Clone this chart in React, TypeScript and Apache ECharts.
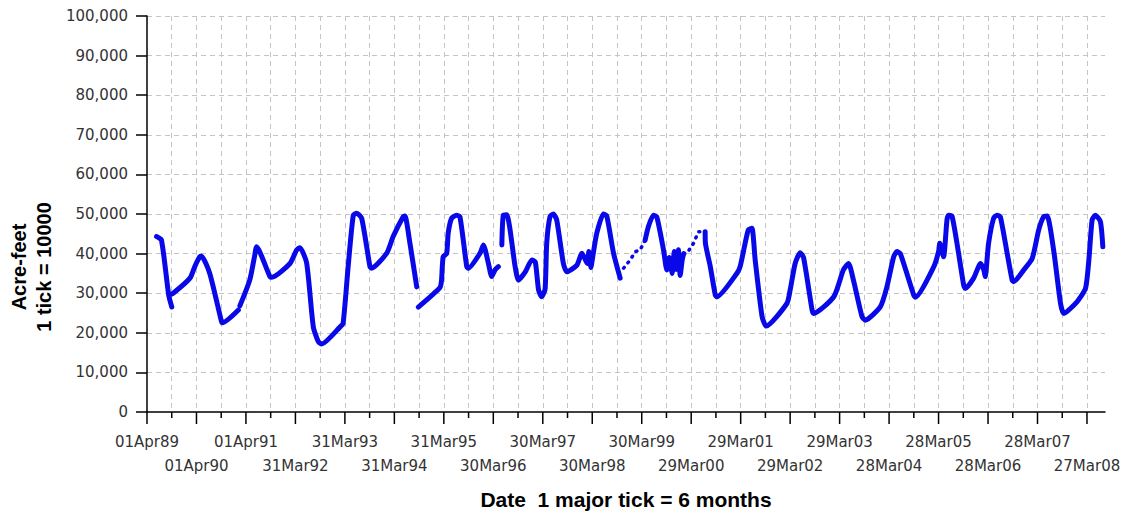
import React, { useEffect, useRef } from "react";
import * as echarts from "echarts";

// Reservoir storage (acre-feet), observed record; null = gap in record
const obsDates: string[] = [
  "1989-06-10", "1989-07-17", "1989-09-08", "1989-10-01", "1989-09-10",
  "1989-09-11", "1989-10-11", "1990-02-12", "1990-03-19", "1990-04-25", "1990-05-07", "1990-07-08",
  "1990-10-03", "1990-10-10", "1991-02-04", "1991-02-10",
  "1991-02-15", "1991-04-29", "1991-06-05", "1991-06-18", "1991-09-25", "1991-10-09",
  "1992-02-20", "1992-04-09", "1992-05-03", "1992-06-22", "1992-08-10", "1992-09-16", "1992-10-11",
  "1993-02-24", "1993-03-18", "1993-04-24", "1993-06-01", "1993-06-26", "1993-08-02", "1993-10-02",
  "1993-10-13", "1994-02-03", "1994-03-22", "1994-06-04", "1994-06-17", "1994-07-24", "1994-09-12",
  "1994-09-18",
  "1994-09-24", "1995-03-02", "1995-03-14", "1995-03-26", "1995-04-21", "1995-05-02", "1995-05-27",
  "1995-07-03", "1995-07-28", "1995-09-16", "1995-09-28", "1995-12-23", "1996-01-17", "1996-02-23",
  "1996-03-18", "1996-04-12", "1996-05-06", "1996-05-20",
  "1996-06-01", "1996-06-12", "1996-07-07", "1996-09-07", "1996-10-02", "1996-11-21", "1997-01-09",
  "1997-02-03", "1997-02-27", "1997-03-22", "1997-04-16", "1997-04-28", "1997-05-22", "1997-06-16",
  "1997-07-11", "1997-08-29", "1997-09-24", "1997-12-07", "1998-01-13", "1998-02-21", "1998-03-05",
  "1998-03-20", "1998-04-04", "1998-05-02", "1998-06-20", "1998-07-15", "1998-09-03", "1998-10-22",
  "1998-11-01",
  "1999-04-24", "1999-05-18", "1999-06-24", "1999-07-19", "1999-09-07", "1999-10-01", "1999-10-19",
  "1999-11-10", "1999-11-25", "1999-12-10", "1999-12-25", "2000-01-08", "2000-01-23", "2000-02-03",
  "2000-03-01",
  "2000-07-10", "2000-07-12", "2000-08-17", "2000-09-23", "2000-10-05", "2001-03-01", "2001-03-25",
  "2001-05-01", "2001-05-25", "2001-06-20", "2001-07-14", "2001-09-03", "2001-10-04", "2002-03-05",
  "2002-03-29", "2002-05-05", "2002-06-11", "2002-07-06", "2002-09-07", "2002-09-18", "2003-02-14",
  "2003-04-26", "2003-06-03", "2003-07-09", "2003-09-10", "2003-10-04", "2004-01-24", "2004-03-12",
  "2004-05-01", "2004-05-25", "2004-06-19", "2004-09-26", "2004-10-08", "2005-02-21", "2005-03-28",
  "2005-04-06", "2005-05-04", "2005-05-29", "2005-06-10", "2005-07-05", "2005-08-11", "2005-09-29",
  "2005-10-11", "2005-12-12", "2006-02-01", "2006-02-25", "2006-03-07", "2006-04-01", "2006-05-08",
  "2006-06-03", "2006-06-27", "2006-08-16", "2006-09-22", "2006-10-03", "2006-12-17", "2007-02-17",
  "2007-04-06", "2007-05-12", "2007-06-07", "2007-07-25", "2007-09-14", "2007-10-08", "2008-01-15",
  "2008-03-16", "2008-04-10", "2008-05-04", "2008-05-28", "2008-07-04", "2008-07-22",
];
const obsValues: (number | null)[] = [
  44300, 43400, 29500, 26500, null,
  29600, 30000, 33800, 36700, 39200, 39400, 35000,
  22800, 22550, 25750, null,
  26800, 33300, 39600, 41700, 34200, 34000,
  37500, 40900, 41500, 37600, 21500, 17750, 17200,
  21500, 22400, 36700, 49700, 50200, 48900, 36700,
  36300, 40100, 44300, 49300, 49500, 42600, 31600,
  null,
  26500, 31400, 33300, 39200, 40000, 45100, 48900,
  49700, 49300, 36700, 36300, 40100, 42200, 37500,
  34200, 35900, 36700, null,
  42200, 49700, 49800, 36700, 33300, 35400, 38400,
  37900, 30800, 29100, 31000, 42600, 49300, 50000,
  48500, 37500, 35400, 37100, 40100, 37500, 40500,
  36500, 39500, 45100, 50000, 49500, 40100, 33800,
  null,
  43400, 46800, 49700, 49300, 40900, 35900, 39000,
  35000, 40500, 36000, 41000, 34500, 38500, 40000,
  null,
  45500, 42600, 36700, 29500, 29100, 35000, 36700,
  42600, 46000, 46400, 38400, 24100, 21700, 27400,
  30800, 37500, 40200, 39000, 25750, 24900, 29100,
  35900, 37500, 33300, 24100, 23200, 26600, 31600,
  39200, 40500, 40000, 29500, 29000, 36700, 40500,
  42600, 39200, 48500, 49700, 49500, 42600, 32100,
  31200, 33800, 37500, 35900, 34200, 42600, 48900,
  49700, 49300, 40100, 33300, 32900, 35900, 38800,
  46000, 49300, 49500, 40900, 27400, 24900, 27900,
  31200, 38400, 48500, 49700, 48100, 41700,
];

// Estimated / sparse record (dotted)
const estDates: string[] = [
  "1998-11-16", "1999-01-04", "1999-02-11", "1999-03-18", "1999-04-24",
  "1999-08-01",
  "2000-02-03", "2000-02-27", "2000-04-15", "2000-05-21", "2000-06-30", "2000-07-10",
];
const estValues: (number | null)[] = [
  36300, 38400, 40500, 40900, 43400,
  null,
  40000, 40100, 42600, 45500, 45500, 45500,
];

const MONTHS = ["Jan", "Feb", "Mar", "Apr", "May", "Jun", "Jul", "Aug", "Sep", "Oct", "Nov", "Dec"];
const ORIGIN = Date.UTC(1989, 3, 1);
const DAY = 86400000;
const TICK_DAYS = 182.5; // 1 major tick = 6 months
const YEAR_DAYS = 365;
const X_MAX = 7068;
const yTicks = { min: 0, max: 100000, step: 10000 };

const toDay = (s: string) => {
  const [y, m, d] = s.split("-").map(Number);
  return (Date.UTC(y, m - 1, d) - ORIGIN) / DAY;
};
const pad = (n: number) => (n < 10 ? "0" + n : "" + n);
const fmtDate = (v: number) => {
  const d = new Date(ORIGIN + v * DAY);
  return pad(d.getUTCDate()) + MONTHS[d.getUTCMonth()] + pad(d.getUTCFullYear() % 100);
};

const tickMarks: number[][] = [];
for (let k = 0; k * TICK_DAYS <= X_MAX; k++) tickMarks.push([k * TICK_DAYS, k % 2 === 0 ? 1 : 0]);

const FONT_LBL = '"DejaVu Sans", Arial, sans-serif';
const FONT_TTL = '"Liberation Sans", Arial, sans-serif';

export default function App() {
  const ref = useRef<HTMLDivElement>(null);
  useEffect(() => {
    document.body.style.margin = "0";
    const chart = echarts.init(ref.current!, undefined, { renderer: "svg" });
    const obs = obsDates.map((d, i) => [toDay(d), obsValues[i] === null ? "-" : obsValues[i]]);
    const est = estDates.map((d, i) => [toDay(d), estValues[i] === null ? "-" : estValues[i]]);
    const blue = "#0808e8";
    chart.setOption({
      animation: false,
      backgroundColor: "#ffffff",
      grid: { left: 147, right: 28, top: 16, bottom: 105, containLabel: false, outerBoundsMode: "none" },
      xAxis: {
        type: "value",
        min: 0,
        max: X_MAX,
        interval: TICK_DAYS,
        axisLine: { show: true, lineStyle: { color: "#000", width: 1.5 } },
        axisTick: { show: false },
        splitLine: {
          show: true,
          showMinLine: false,
          showMaxLine: false,
          lineStyle: { color: "#c4c4c4", type: [5, 4], width: 1 },
        },
        axisLabel: {
          show: true,
          showMaxLabel: false,
          margin: 18,
          lineHeight: 24,
          fontFamily: FONT_LBL,
          fontSize: 15,
          color: "#333",
          formatter: (v: number) => {
            const k = v / YEAR_DAYS;
            if (Math.abs(k - Math.round(k)) > 1e-6) return "";
            const s = fmtDate(v);
            return Math.round(k) % 2 === 1 ? "\n" + s : s;
          },
        },
      },
      yAxis: {
        type: "value",
        min: yTicks.min,
        max: yTicks.max,
        interval: yTicks.step,
        axisLine: { show: true, lineStyle: { color: "#000", width: 1.5 } },
        axisTick: { show: true, length: 11, lineStyle: { color: "#000", width: 1.5 } },
        splitLine: {
          show: true,
          showMinLine: false,
          lineStyle: { color: "#c4c4c4", type: [5, 4], width: 1 },
        },
        axisLabel: {
          margin: 19,
          fontFamily: FONT_LBL,
          fontSize: 15,
          color: "#333",
          formatter: (v: number) => v.toLocaleString("en-US"),
        },
      },
      series: [
        {
          type: "line",
          data: obs,
          showSymbol: false,
          connectNulls: false,
          silent: true,
          smooth: 0.2,
          lineStyle: { color: blue, width: 5, cap: "round", join: "round" },
          z: 3,
        },
        {
          type: "line",
          data: est,
          showSymbol: false,
          connectNulls: false,
          silent: true,
          lineStyle: { color: blue, width: 3.5, type: [1, 6], cap: "round" },
          z: 3,
        },
        {
          type: "custom",
          data: tickMarks,
          silent: true,
          clip: false,
          z: 4,
          renderItem: (_p: any, api: any) => {
            const x = api.value(0);
            const major = api.value(1) === 1;
            const pt = api.coord([x, 0]);
            return {
              type: "line",
              shape: { x1: pt[0], y1: pt[1], x2: pt[0], y2: pt[1] + (major ? 12 : 6) },
              style: { stroke: "#000", lineWidth: 1.5 },
            };
          },
        },
      ],
      graphic: [
        {
          type: "text",
          x: 31,
          y: 267,
          rotation: Math.PI / 2,
          style: {
            text: "Acre-feet\n1 tick = 10000",
            font: `bold 20px ${FONT_TTL}`,
            fill: "#000",
            align: "center",
            verticalAlign: "middle",
            lineHeight: 25,
          },
        },
        {
          type: "text",
          x: 626,
          y: 499,
          style: {
            text: "Date  1 major tick = 6 months",
            font: `bold 21px ${FONT_TTL}`,
            fill: "#000",
            align: "center",
            verticalAlign: "middle",
          },
        },
      ],
    });
    return () => chart.dispose();
  }, []);
  return <div ref={ref} style={{ width: 1133, height: 517 }} />;
}
